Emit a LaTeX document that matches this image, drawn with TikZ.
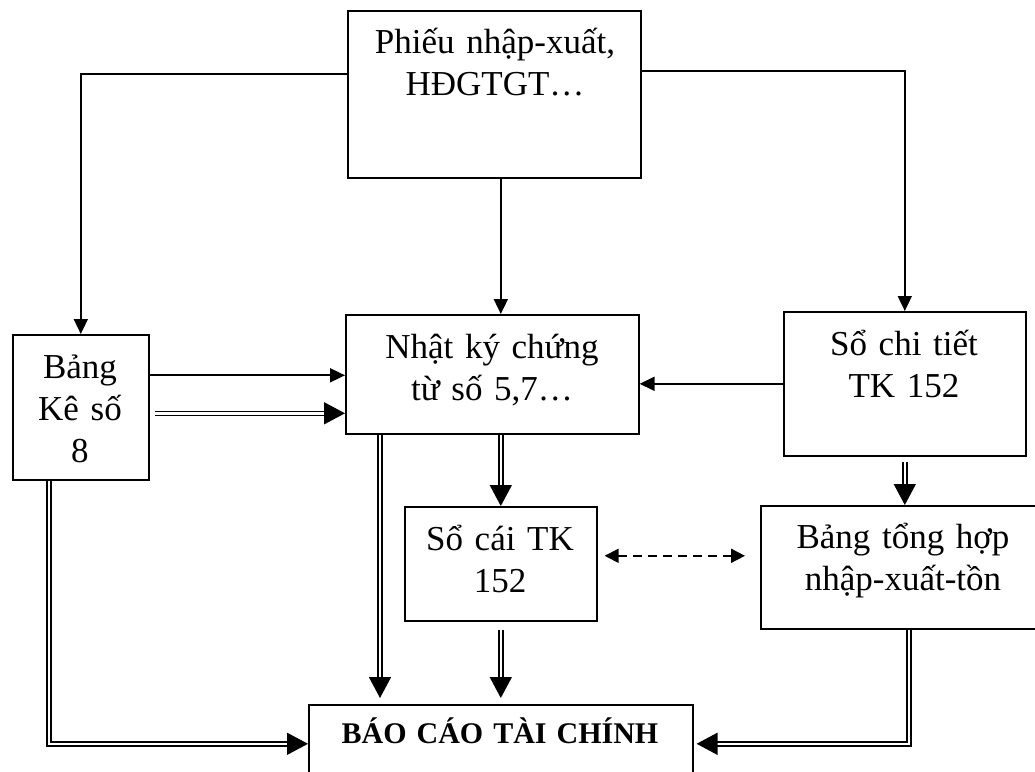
\documentclass[tikz,border=0pt]{standalone}
\usepackage{fontspec}
\setmainfont{Liberation Serif}
\usetikzlibrary{arrows.meta,calc}
\begin{document}
\begin{tikzpicture}[x=1pt,y=-1pt,
 box/.style={draw,line width=1.6pt,inner sep=0pt,anchor=north west},
 txt/.style={anchor=base,align=center,inner sep=0pt,text width=290pt,font=\fontsize{35}{42}\selectfont},
 sarrow/.style={line width=1.8pt,-{Triangle[length=15pt,width=14pt]}},
 darrow/.style={double,double distance=2.6pt,line width=1.5pt,-{Triangle[length=21pt,width=22pt]}},
 dasharrow/.style={line width=1.8pt,dash pattern=on 9pt off 6pt,{Triangle[length=14pt,width=14pt]}-{Triangle[length=14pt,width=14pt]}},
 ]
\useasboundingbox (0,0) rectangle (1035,771);
% boxes
\node[box,minimum width=293pt,minimum height=167pt] (top) at (347,10) {};
\node[box,minimum width=136pt,minimum height=145pt] (bk) at (12,334) {};
\node[box,minimum width=293pt,minimum height=119pt] (nk) at (345,314) {};
\node[box,minimum width=242pt,minimum height=144pt] (sct) at (783,311) {};
\node[box,minimum width=192pt,minimum height=114pt] (sc) at (404,506) {};
\node[box,minimum width=296pt,minimum height=123pt] (bth) at (760,505) {};
\node[box,minimum width=384pt,minimum height=78pt] (bc) at (308,704) {};
% texts
\node[txt] (toptext) at (495,53) {Phiếu nhập-xuất,\\HĐGTGT…};
\node[txt] (bktext) at (80,378) {Bảng\\Kê số\\8};
\node[txt] (nktext) at (492,358) {Nhật ký chứng\\từ số 5,7…};
\node[txt] (scttext) at (904,355) {Sổ chi tiết\\TK 152};
\node[txt] (sctext) at (500,550) {Sổ cái TK\\152};
\node[txt] (bthtext) at (903,548) {Bảng tổng hợp\\nhập-xuất-tồn};
\node[txt,font=\fontsize{30}{35}\selectfont\bfseries,text width=380pt] (bctext) at (500,743) {BÁO CÁO TÀI CHÍNH};
% connectors
\draw[sarrow] ([yshift=20pt]top.west) -| (bk.north);
\draw[sarrow] ([yshift=23pt]top.east) -| (sct.north);
\draw[sarrow] (top.south -| sc.north) -- (nk.north -| sc.north);
\draw[sarrow] ([yshift=32pt]bk.east) -- ([yshift=32pt]bk.east -| nk.west);
\draw[darrow] ([xshift=5pt,yshift=-6pt]bk.east) -- ([yshift=-6pt]bk.east -| nk.west);
\draw[sarrow] (sct.west) -- (sct.west -| nk.east);
\draw[darrow] (nk.south -| sc.north) -- (sc.north);
\draw[darrow] ([xshift=35pt]nk.south west) -- ($([xshift=35pt]nk.south west |- bc.north)+(0,-6)$);
\draw[darrow] ([yshift=-8pt]sc.south) -- ($(sc.south |- bc.north)+(0,-6)$);
\draw[darrow] ([yshift=-5pt]sct.south) -- (sct.south |- bth.north);
\draw[dasharrow] ($(sc.east)+(7,-8)$) -- ($(sc.east -| bth.west)+(-15,-8)$);
\draw[darrow] ([xshift=37pt]bk.south west) |- (bc.west);
\draw[darrow] (bth.south) |- ($(bc.east)+(3,0)$);
\end{tikzpicture}
\end{document}
